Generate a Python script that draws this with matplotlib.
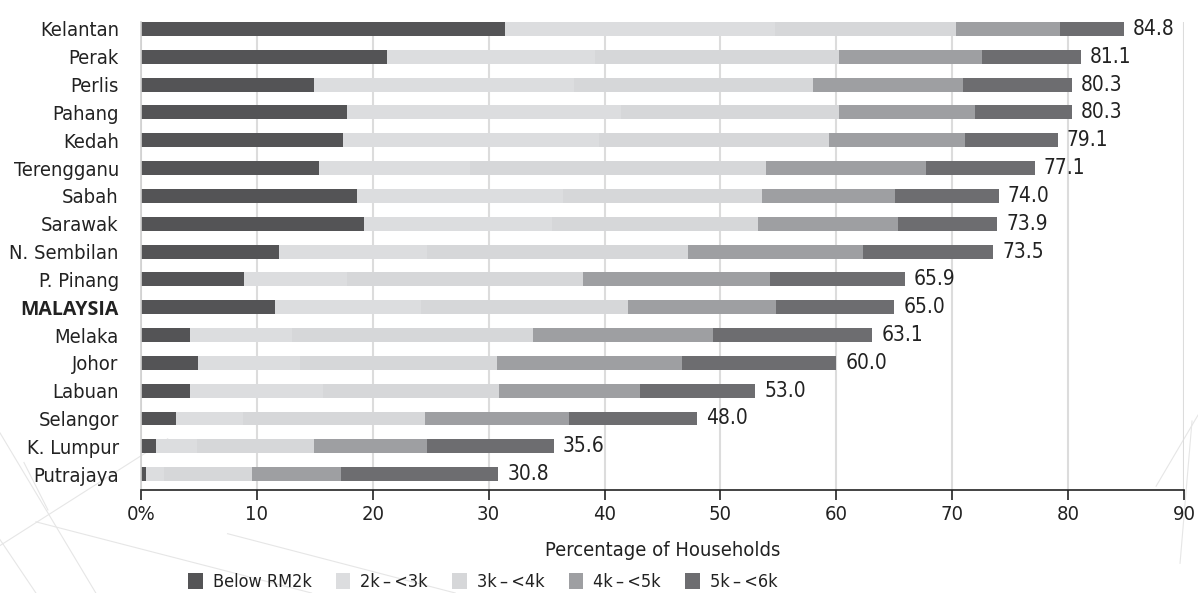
import matplotlib.pyplot as plt
from matplotlib.lines import Line2D
import numpy as np

plt.rcParams['font.family'] = ['DejaVu Sans']
plt.rcParams['font.stretch'] = 'condensed'

states = ['Kelantan', 'Perak', 'Perlis', 'Pahang', 'Kedah', 'Terengganu', 'Sabah',
          'Sarawak', 'N. Sembilan', 'P. Pinang', 'MALAYSIA', 'Melaka', 'Johor',
          'Labuan', 'Selangor', 'K. Lumpur', 'Putrajaya']

# share of households per income band (%)
below_2k = [31.4, 21.2, 14.9, 17.8, 17.4, 15.4, 18.6, 19.2, 11.9, 8.9, 11.6, 4.2, 4.9, 4.2, 3.0, 1.3, 0.4]
k2_3 = [23.3, 18.0, 22.5, 23.6, 22.1, 13.0, 17.8, 16.3, 12.8, 8.9, 12.6, 8.8, 8.8, 11.5, 5.8, 3.5, 1.6]
k3_4 = [15.6, 21.0, 20.6, 18.8, 19.9, 25.5, 17.2, 17.7, 22.5, 20.3, 17.8, 20.8, 17.0, 15.2, 15.7, 10.1, 7.6]
k4_5 = [9.0, 12.4, 12.9, 11.8, 11.7, 13.8, 11.5, 12.1, 15.1, 16.2, 12.8, 15.6, 16.0, 12.2, 12.4, 9.8, 7.7]
k5_6 = [5.5, 8.5, 9.4, 8.3, 8.0, 9.4, 8.9, 8.6, 11.2, 11.6, 10.2, 13.7, 13.3, 9.9, 11.1, 10.9, 13.5]
totals = [84.8, 81.1, 80.3, 80.3, 79.1, 77.1, 74.0, 73.9, 73.5, 65.9, 65.0, 63.1, 60.0, 53.0, 48.0, 35.6, 30.8]

bands = ['Below RM2k', '2k\u2009–\u2009<3k', '3k\u2009–\u2009<4k', '4k\u2009–\u2009<5k', '5k\u2009–\u2009<6k']
colors = ['#545456', '#dcdddf', '#d6d7d9', '#9e9fa2', '#6d6d70']

fig = plt.figure(figsize=(11.98, 5.93), dpi=100)

# faint decorative lines in the background
deco = [((0.0, 0.08), (0.27, 0.0)), ((0.0, 0.03), (0.09, 0.0)), ((0.03, 0.26), (0.12, 0.0)),
        ((0.0, 0.14), (0.08, 0.26)), ((0.04, 0.02), (0.14, 0.22)), ((0.19, 0.38), (0.1, 0.0)),
        ((0.965, 1.0), (0.18, 0.3)), ((0.985, 0.995), (0.05, 0.29))]
for xs, ys in deco:
    fig.add_artist(Line2D(xs, ys, color='#e6e6e6', linewidth=0.8, zorder=0))

ax = fig.add_axes([141 / 1198, 1 - 490 / 593, (1184 - 141) / 1198, (490 - 22) / 593])
ax.patch.set_alpha(0)

y = np.arange(len(states))
left = np.zeros(len(states))
for vals, name, c in zip([below_2k, k2_3, k3_4, k4_5, k5_6], bands, colors):
    ax.barh(y, vals, left=left, height=0.5, color=c, label=name, zorder=2)
    left += np.array(vals)

for yi, t, lft in zip(y, totals, left):
    ax.text(lft + 0.8, yi, f'{t:.1f}', va='center', ha='left', fontsize=15, color='#222222')

ax.set_ylim(len(states) - 0.43, -0.25)
ax.set_xlim(0, 90)
ax.set_xticks(range(0, 91, 10))
ax.set_xticklabels(['0%'] + [str(v) for v in range(10, 91, 10)], fontsize=14.5, color='#222222')
ax.set_yticks(y)
ax.set_yticklabels(states, fontsize=14.5, color='#222222')
for lbl in ax.get_yticklabels():
    if lbl.get_text() == 'MALAYSIA':
        lbl.set_fontweight('bold')
        lbl.set_family(['Open Sans', 'DejaVu Sans'])
        lbl.set_fontstretch('normal')
        lbl.set_fontsize(14)

ax.tick_params(axis='y', length=0, pad=16)
ax.tick_params(axis='x', direction='out', length=7, width=1.2, color='#222222', pad=4)
ax.grid(axis='x', color='#dcdcdc', linewidth=1.5, zorder=0)
ax.set_axisbelow(True)
for s in ['top', 'right']:
    ax.spines[s].set_visible(False)
ax.spines['left'].set_color('#d0d0d0')
ax.spines['left'].set_linewidth(1.2)
ax.spines['bottom'].set_color('#222222')
ax.spines['bottom'].set_linewidth(1.2)

ax.set_xlabel('Percentage of Households', fontsize=14.5, color='#222222', labelpad=12)

fig.legend(loc='lower center', bbox_to_anchor=(0.403, -0.024), ncol=5, frameon=False,
           fontsize=13, handlelength=0.8, handleheight=1.0, columnspacing=1.35,
           handletextpad=0.55, labelcolor='#222222')

fig.savefig('out.png', dpi=100, facecolor='white')
